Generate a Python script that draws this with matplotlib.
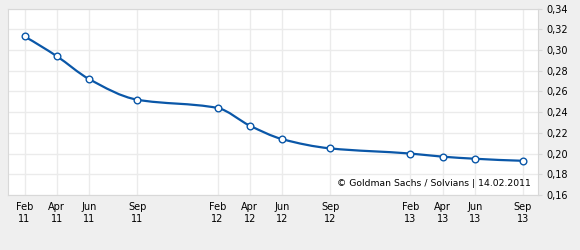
import matplotlib
matplotlib.use("Agg")
import matplotlib.pyplot as plt
from matplotlib.path import Path
from matplotlib.patches import PathPatch
import numpy as np

# months since Feb 2011
months = [0, 2, 4, 7, 12, 14, 16, 19, 24, 26, 28, 31]
labels = ["Feb\n11", "Apr\n11", "Jun\n11", "Sep\n11", "Feb\n12", "Apr\n12",
          "Jun\n12", "Sep\n12", "Feb\n13", "Apr\n13", "Jun\n13", "Sep\n13"]
values = [0.313, 0.294, 0.272, 0.252, 0.244, 0.227, 0.214, 0.205,
          0.200, 0.197, 0.195, 0.193]
yticks = [0.16, 0.18, 0.20, 0.22, 0.24, 0.26, 0.28, 0.30, 0.32, 0.34]

blue = "#0a57a8"
grid_c = "#ebebeb"
bg = "#efefef"


def pchip_slopes(x, y):
    x = np.asarray(x, float)
    y = np.asarray(y, float)
    h = np.diff(x)
    dl = np.diff(y) / h
    d = np.zeros_like(y)
    for k in range(1, len(x) - 1):
        if dl[k - 1] * dl[k] <= 0:
            continue
        w1 = 2 * h[k] + h[k - 1]
        w2 = h[k] + 2 * h[k - 1]
        d[k] = (w1 + w2) / (w1 / dl[k - 1] + w2 / dl[k])

    def end(h0, h1, d0, d1):
        s = ((2 * h0 + h1) * d0 - h0 * d1) / (h0 + h1)
        if np.sign(s) != np.sign(d0):
            return 0.0
        if np.sign(d0) != np.sign(d1) and abs(s) > abs(3 * d0):
            return 3 * d0
        return s

    d[0] = end(h[0], h[1], dl[0], dl[1])
    d[-1] = end(h[-1], h[-2], dl[-1], dl[-2])
    return d


def smooth_path(x, y):
    # monotone cubic drawn as bezier segments
    d = pchip_slopes(x, y)
    verts = [(x[0], y[0])]
    codes = [Path.MOVETO]
    for k in range(len(x) - 1):
        h = (x[k + 1] - x[k]) / 3
        verts += [(x[k] + h, y[k] + d[k] * h),
                  (x[k + 1] - h, y[k + 1] - d[k + 1] * h),
                  (x[k + 1], y[k + 1])]
        codes += [Path.CURVE4] * 3
    return Path(verts, codes)


fig = plt.figure(figsize=(5.8, 2.5), dpi=100, facecolor=bg)
ax = fig.add_axes([8 / 580, 55 / 250, 530 / 580, 186.5 / 250])
ax.set_facecolor("white")

ax.set_xlim(-1.03, 31.93)
ax.set_ylim(0.16, 0.34)
ax.set_xticks(months)
ax.set_xticklabels(labels, fontsize=7, linespacing=1.25)
ax.set_yticks(yticks)
ax.set_yticklabels([f"{v:.2f}".replace(".", ",") for v in yticks], fontsize=7)
ax.yaxis.tick_right()
ax.tick_params(axis="x", length=0, pad=5)
ax.tick_params(axis="y", length=3, color="#d8d8d8", pad=3)
ax.grid(True, color=grid_c, lw=1)
ax.set_axisbelow(True)
for s in ax.spines.values():
    s.set_color("#d8d8d8")

ax.add_patch(PathPatch(smooth_path(months, values), fill=False,
                       edgecolor=blue, lw=1.6, zorder=3))
ax.plot(months, values, ls="none", marker="o", ms=4.8, mfc="white",
        mec=blue, mew=1.0, zorder=4)

ax.text(0.987, 0.04, "\u00a9 Goldman Sachs / Solvians | 14.02.2011",
        transform=ax.transAxes, ha="right", va="bottom", fontsize=6.7)

fig.savefig("out.png", dpi=100, facecolor=bg)
